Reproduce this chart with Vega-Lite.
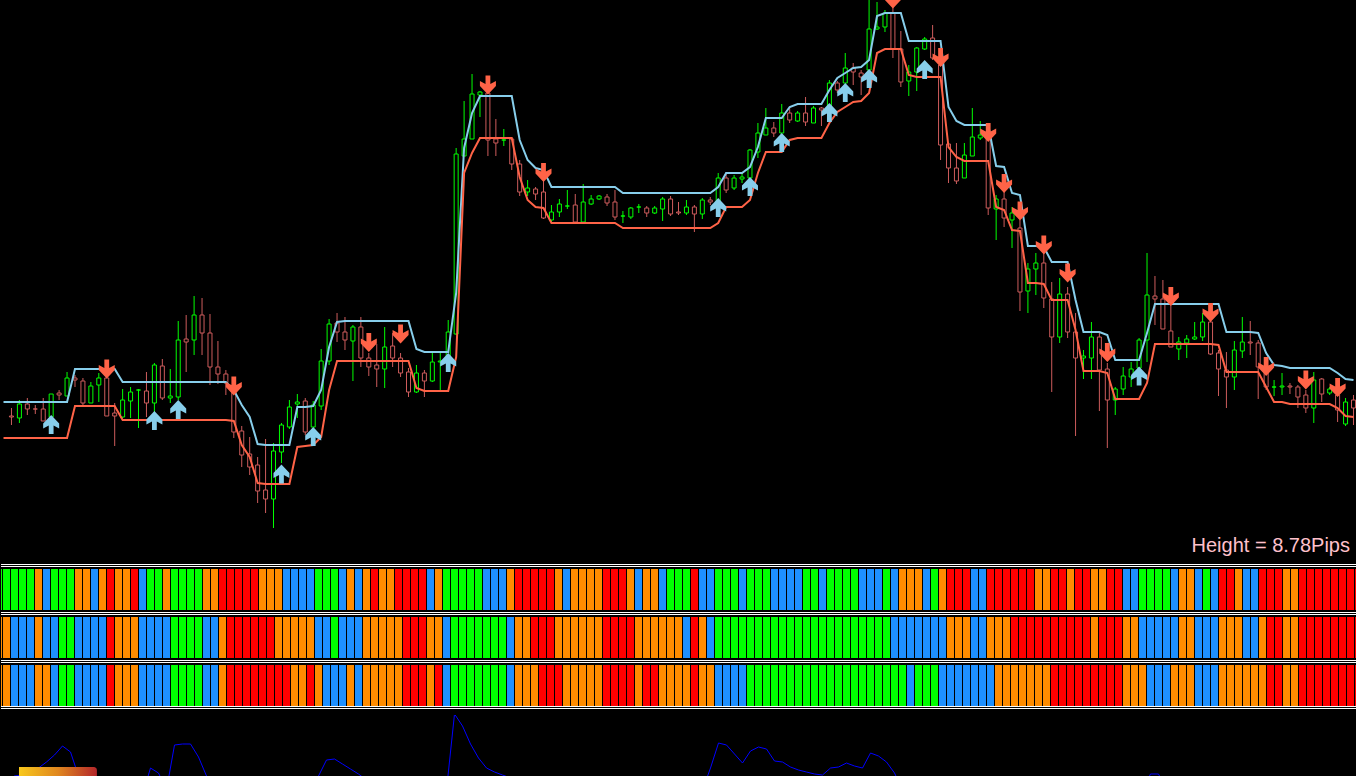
{
"$schema":"https://vega.github.io/schema/vega-lite/v6.json",
"background":"black",
"padding":0,
"spacing":0,
"config":{"view":{"stroke":null},"concat":{"spacing":0}},
"resolve":{"scale":{"color":"independent","stroke":"independent","shape":"independent","x":"independent","y":"independent"}},
"datasets":{
"bars":[
{"k":-1,"up":158,"lo":122,"s1":"G","s2":"O","s3":"O","v":-5},
{"k":0,"o":144,"h":152,"l":135,"c":143,"d":"d","up":158,"lo":122,"s1":"G","s2":"O","s3":"O","v":18},
{"k":1,"o":142,"h":160,"l":137,"c":156,"d":"u","up":158,"lo":122,"s1":"G","s2":"B","s3":"B","v":24},
{"k":2,"o":156,"h":162,"l":145,"c":151,"d":"d","up":158,"lo":122,"s1":"G","s2":"B","s3":"B","v":25},
{"k":3,"o":151,"h":155,"l":146,"c":151,"d":"d","up":158,"lo":122,"s1":"G","s2":"B","s3":"B","v":26},
{"k":4,"o":151,"h":162,"l":139,"c":139,"d":"d","up":158,"lo":122,"s1":"O","s2":"O","s3":"O","v":32},
{"k":5,"o":143,"h":166,"l":143,"c":166,"d":"u","up":158,"lo":122,"s1":"B","s2":"B","s3":"O","v":38},
{"k":6,"o":167,"h":170,"l":160,"c":165,"d":"d","up":158,"lo":122,"s1":"G","s2":"B","s3":"B","v":45},
{"k":7,"o":164,"h":188,"l":164,"c":182,"d":"u","up":158,"lo":122,"s1":"G","s2":"G","s3":"G","v":54},
{"k":8,"o":182,"h":185,"l":173,"c":180,"d":"d","up":191,"lo":154,"s1":"G","s2":"G","s3":"G","v":48},
{"k":9,"o":179,"h":182,"l":153,"c":157,"d":"d","up":191,"lo":154,"s1":"O","s2":"B","s3":"B","v":24},
{"k":10,"o":157,"h":178,"l":157,"c":174,"d":"u","up":191,"lo":154,"s1":"O","s2":"B","s3":"B","v":5},
{"k":11,"o":175,"h":187,"l":158,"c":182,"d":"u","up":191,"lo":154,"s1":"B","s2":"B","s3":"B","v":-5},
{"k":12,"o":182,"h":184,"l":144,"c":144,"d":"d","up":191,"lo":154,"s1":"O","s2":"B","s3":"B","v":-5},
{"k":13,"o":147,"h":157,"l":114,"c":144,"d":"d","up":191,"lo":154,"s1":"R","s2":"R","s3":"R","v":-5},
{"k":14,"o":143,"h":171,"l":142,"c":160,"d":"u","up":178,"lo":140,"s1":"O","s2":"O","s3":"O","v":-5},
{"k":15,"o":159,"h":173,"l":142,"c":168,"d":"u","up":178,"lo":140,"s1":"O","s2":"O","s3":"O","v":-5},
{"k":16,"o":170,"h":171,"l":132,"c":170,"d":"u","up":178,"lo":140,"s1":"R","s2":"O","s3":"O","v":-5},
{"k":17,"o":169,"h":188,"l":143,"c":157,"d":"d","up":178,"lo":140,"s1":"B","s2":"B","s3":"B","v":5},
{"k":18,"o":157,"h":197,"l":148,"c":195,"d":"u","up":178,"lo":140,"s1":"G","s2":"B","s3":"B","v":32},
{"k":19,"o":194,"h":201,"l":160,"c":162,"d":"d","up":178,"lo":140,"s1":"G","s2":"B","s3":"B","v":27},
{"k":20,"o":162,"h":191,"l":157,"c":164,"d":"u","up":178,"lo":140,"s1":"O","s2":"B","s3":"B","v":10},
{"k":21,"o":163,"h":239,"l":160,"c":220,"d":"u","up":178,"lo":140,"s1":"G","s2":"G","s3":"G","v":55},
{"k":22,"o":221,"h":245,"l":188,"c":218,"d":"d","up":178,"lo":140,"s1":"G","s2":"G","s3":"G","v":56},
{"k":23,"o":220,"h":264,"l":205,"c":245,"d":"u","up":178,"lo":140,"s1":"G","s2":"G","s3":"G","v":56},
{"k":24,"o":245,"h":262,"l":205,"c":227,"d":"d","up":178,"lo":140,"s1":"G","s2":"G","s3":"G","v":43},
{"k":25,"o":227,"h":246,"l":175,"c":193,"d":"d","up":178,"lo":140,"s1":"O","s2":"B","s3":"B","v":24},
{"k":26,"o":193,"h":219,"l":176,"c":186,"d":"d","up":178,"lo":140,"s1":"O","s2":"B","s3":"B","v":5},
{"k":27,"o":186,"h":190,"l":165,"c":177,"d":"d","up":178,"lo":140,"s1":"R","s2":"O","s3":"O","v":-5},
{"k":28,"o":170,"h":175,"l":122,"c":128,"d":"d","up":170,"lo":139,"s1":"R","s2":"R","s3":"R","v":-5},
{"k":29,"o":129,"h":134,"l":93,"c":105,"d":"d","up":155,"lo":115,"s1":"R","s2":"R","s3":"R","v":-5},
{"k":30,"o":106,"h":123,"l":85,"c":93,"d":"d","up":143,"lo":103,"s1":"R","s2":"R","s3":"R","v":-5},
{"k":31,"o":95,"h":103,"l":57,"c":69,"d":"d","up":116,"lo":77,"s1":"R","s2":"R","s3":"R","v":-5},
{"k":32,"o":70,"h":121,"l":47,"c":61,"d":"d","up":115,"lo":76,"s1":"O","s2":"R","s3":"R","v":-5},
{"k":33,"o":61,"h":117,"l":32,"c":109,"d":"u","up":115,"lo":76,"s1":"O","s2":"R","s3":"R","v":-5},
{"k":34,"o":108,"h":137,"l":97,"c":135,"d":"u","up":115,"lo":76,"s1":"O","s2":"O","s3":"R","v":-5},
{"k":35,"o":133,"h":160,"l":131,"c":153,"d":"u","up":115,"lo":76,"s1":"B","s2":"O","s3":"R","v":-5},
{"k":36,"o":156,"h":166,"l":142,"c":158,"d":"u","up":153,"lo":113,"s1":"B","s2":"O","s3":"O","v":-5},
{"k":37,"o":159,"h":162,"l":125,"c":128,"d":"d","up":153,"lo":114,"s1":"B","s2":"O","s3":"O","v":-5},
{"k":38,"o":133,"h":159,"l":133,"c":155,"d":"u","up":154,"lo":115,"s1":"B","s2":"O","s3":"R","v":10},
{"k":39,"o":154,"h":211,"l":150,"c":199,"d":"u","up":170,"lo":123,"s1":"G","s2":"B","s3":"O","v":24},
{"k":40,"o":199,"h":241,"l":195,"c":236,"d":"u","up":213,"lo":170,"s1":"G","s2":"B","s3":"B","v":40},
{"k":41,"o":237,"h":247,"l":218,"c":228,"d":"d","up":238,"lo":199,"s1":"G","s2":"G","s3":"B","v":41},
{"k":42,"o":228,"h":243,"l":210,"c":220,"d":"d","up":239,"lo":199,"s1":"B","s2":"B","s3":"B","v":36},
{"k":43,"o":219,"h":235,"l":179,"c":233,"d":"u","up":239,"lo":199,"s1":"O","s2":"B","s3":"O","v":31},
{"k":44,"o":233,"h":243,"l":193,"c":202,"d":"d","up":239,"lo":199,"s1":"B","s2":"B","s3":"B","v":26},
{"k":45,"o":202,"h":207,"l":184,"c":193,"d":"d","up":239,"lo":199,"s1":"O","s2":"O","s3":"O","v":20},
{"k":46,"o":195,"h":216,"l":173,"c":191,"d":"d","up":239,"lo":199,"s1":"R","s2":"O","s3":"O","v":5},
{"k":47,"o":191,"h":233,"l":172,"c":213,"d":"u","up":239,"lo":199,"s1":"O","s2":"O","s3":"O","v":-5},
{"k":48,"o":214,"h":227,"l":193,"c":202,"d":"d","up":239,"lo":199,"s1":"O","s2":"O","s3":"O","v":-5},
{"k":49,"o":202,"h":207,"l":183,"c":187,"d":"d","up":239,"lo":199,"s1":"R","s2":"O","s3":"O","v":-5},
{"k":50,"o":188,"h":192,"l":163,"c":168,"d":"d","up":239,"lo":199,"s1":"R","s2":"R","s3":"R","v":-5},
{"k":51,"o":168,"h":195,"l":167,"c":187,"d":"u","up":211,"lo":172,"s1":"R","s2":"R","s3":"R","v":-5},
{"k":52,"o":187,"h":190,"l":163,"c":179,"d":"d","up":208,"lo":169,"s1":"R","s2":"R","s3":"R","v":-5},
{"k":53,"o":179,"h":207,"l":178,"c":198,"d":"u","up":208,"lo":169,"s1":"B","s2":"O","s3":"O","v":-5},
{"k":54,"o":198,"h":207,"l":170,"c":199,"d":"u","up":208,"lo":169,"s1":"O","s2":"O","s3":"R","v":-5},
{"k":55,"o":198,"h":240,"l":198,"c":228,"d":"u","up":208,"lo":169,"s1":"G","s2":"B","s3":"B","v":10},
{"k":56,"o":226,"h":412,"l":225,"c":406,"d":"u","up":267,"lo":203,"s1":"G","s2":"G","s3":"G","v":86},
{"k":57,"o":404,"h":459,"l":404,"c":421,"d":"u","up":412,"lo":387,"s1":"G","s2":"G","s3":"G","v":74},
{"k":58,"o":421,"h":486,"l":421,"c":466,"d":"u","up":447,"lo":407,"s1":"G","s2":"G","s3":"G","v":56},
{"k":59,"o":465,"h":469,"l":443,"c":468,"d":"u","up":464,"lo":422,"s1":"G","s2":"G","s3":"G","v":42},
{"k":60,"o":467,"h":477,"l":404,"c":420,"d":"d","up":464,"lo":422,"s1":"B","s2":"G","s3":"G","v":32},
{"k":61,"o":421,"h":441,"l":404,"c":417,"d":"d","up":464,"lo":422,"s1":"B","s2":"G","s3":"G","v":28},
{"k":62,"o":420,"h":431,"l":414,"c":420,"d":"u","up":464,"lo":422,"s1":"B","s2":"G","s3":"G","v":25},
{"k":63,"o":421,"h":421,"l":390,"c":396,"d":"d","up":464,"lo":422,"s1":"O","s2":"B","s3":"B","v":22},
{"k":64,"o":396,"h":400,"l":364,"c":368,"d":"d","up":420,"lo":383,"s1":"R","s2":"O","s3":"O","v":10},
{"k":65,"o":368,"h":380,"l":364,"c":372,"d":"u","up":400,"lo":360,"s1":"R","s2":"O","s3":"O","v":-5},
{"k":66,"o":371,"h":373,"l":360,"c":366,"d":"d","up":392,"lo":353,"s1":"R","s2":"R","s3":"O","v":-5},
{"k":67,"o":368,"h":380,"l":341,"c":342,"d":"d","up":390,"lo":352,"s1":"R","s2":"R","s3":"R","v":-5},
{"k":68,"o":340,"h":355,"l":337,"c":348,"d":"u","up":373,"lo":337,"s1":"R","s2":"R","s3":"R","v":-5},
{"k":69,"o":348,"h":361,"l":343,"c":356,"d":"u","up":373,"lo":337,"s1":"O","s2":"O","s3":"R","v":-5},
{"k":70,"o":354,"h":370,"l":351,"c":354,"d":"u","up":373,"lo":337,"s1":"B","s2":"O","s3":"O","v":-5},
{"k":71,"o":355,"h":366,"l":338,"c":338,"d":"d","up":373,"lo":337,"s1":"O","s2":"O","s3":"O","v":-5},
{"k":72,"o":338,"h":376,"l":338,"c":358,"d":"u","up":373,"lo":337,"s1":"O","s2":"O","s3":"O","v":-5},
{"k":73,"o":356,"h":365,"l":355,"c":361,"d":"u","up":373,"lo":337,"s1":"O","s2":"O","s3":"O","v":-5},
{"k":74,"o":361,"h":365,"l":360,"c":364,"d":"u","up":373,"lo":337,"s1":"O","s2":"O","s3":"O","v":-5},
{"k":75,"o":363,"h":366,"l":354,"c":357,"d":"d","up":373,"lo":337,"s1":"R","s2":"R","s3":"R","v":-5},
{"k":76,"o":358,"h":370,"l":340,"c":343,"d":"d","up":373,"lo":337,"s1":"R","s2":"R","s3":"R","v":-5},
{"k":77,"o":344,"h":349,"l":337,"c":344,"d":"u","up":367,"lo":332,"s1":"R","s2":"R","s3":"R","v":-5},
{"k":78,"o":343,"h":353,"l":341,"c":352,"d":"u","up":367,"lo":332,"s1":"O","s2":"R","s3":"R","v":-5},
{"k":79,"o":353,"h":356,"l":347,"c":353,"d":"u","up":367,"lo":332,"s1":"B","s2":"O","s3":"O","v":-5},
{"k":80,"o":352,"h":354,"l":343,"c":347,"d":"d","up":367,"lo":332,"s1":"O","s2":"O","s3":"R","v":-5},
{"k":81,"o":347,"h":354,"l":346,"c":352,"d":"u","up":367,"lo":332,"s1":"O","s2":"O","s3":"R","v":-5},
{"k":82,"o":351,"h":363,"l":339,"c":361,"d":"u","up":367,"lo":332,"s1":"B","s2":"O","s3":"O","v":-5},
{"k":83,"o":361,"h":364,"l":344,"c":346,"d":"d","up":367,"lo":332,"s1":"G","s2":"O","s3":"O","v":-5},
{"k":84,"o":348,"h":358,"l":345,"c":347,"d":"d","up":367,"lo":332,"s1":"G","s2":"O","s3":"O","v":-5},
{"k":85,"o":347,"h":360,"l":345,"c":353,"d":"u","up":367,"lo":332,"s1":"G","s2":"B","s3":"O","v":-5},
{"k":86,"o":353,"h":355,"l":328,"c":346,"d":"d","up":367,"lo":332,"s1":"R","s2":"R","s3":"R","v":-5},
{"k":87,"o":346,"h":362,"l":341,"c":360,"d":"u","up":367,"lo":332,"s1":"B","s2":"O","s3":"O","v":10},
{"k":88,"o":360,"h":363,"l":355,"c":358,"d":"d","up":367,"lo":332,"s1":"B","s2":"B","s3":"O","v":32},
{"k":89,"o":357,"h":387,"l":357,"c":382,"d":"u","up":373,"lo":337,"s1":"G","s2":"G","s3":"B","v":57},
{"k":90,"o":382,"h":388,"l":367,"c":370,"d":"d","up":387,"lo":353,"s1":"G","s2":"G","s3":"B","v":55},
{"k":91,"o":372,"h":385,"l":370,"c":382,"d":"u","up":387,"lo":353,"s1":"G","s2":"G","s3":"B","v":46},
{"k":92,"o":381,"h":387,"l":377,"c":383,"d":"u","up":387,"lo":353,"s1":"B","s2":"G","s3":"B","v":37},
{"k":93,"o":382,"h":411,"l":382,"c":410,"d":"u","up":393,"lo":360,"s1":"G","s2":"G","s3":"G","v":49},
{"k":94,"o":408,"h":437,"l":402,"c":427,"d":"u","up":413,"lo":387,"s1":"G","s2":"G","s3":"G","v":53},
{"k":95,"o":425,"h":452,"l":425,"c":432,"d":"u","up":442,"lo":408,"s1":"G","s2":"G","s3":"G","v":51},
{"k":96,"o":432,"h":438,"l":423,"c":427,"d":"d","up":442,"lo":408,"s1":"B","s2":"G","s3":"G","v":39},
{"k":97,"o":427,"h":456,"l":427,"c":447,"d":"u","up":442,"lo":408,"s1":"B","s2":"G","s3":"G","v":38},
{"k":98,"o":447,"h":453,"l":437,"c":440,"d":"d","up":453,"lo":420,"s1":"B","s2":"G","s3":"G","v":33},
{"k":99,"o":439,"h":449,"l":438,"c":447,"d":"u","up":456,"lo":422,"s1":"B","s2":"G","s3":"G","v":30},
{"k":100,"o":447,"h":463,"l":434,"c":438,"d":"d","up":456,"lo":422,"s1":"G","s2":"G","s3":"G","v":28},
{"k":101,"o":437,"h":454,"l":437,"c":452,"d":"u","up":456,"lo":422,"s1":"G","s2":"G","s3":"G","v":26},
{"k":102,"o":452,"h":453,"l":434,"c":450,"d":"d","up":456,"lo":422,"s1":"B","s2":"G","s3":"G","v":25},
{"k":103,"o":450,"h":480,"l":450,"c":477,"d":"u","up":470,"lo":437,"s1":"G","s2":"G","s3":"G","v":32},
{"k":104,"o":477,"h":479,"l":467,"c":470,"d":"d","up":482,"lo":448,"s1":"G","s2":"G","s3":"G","v":33},
{"k":105,"o":477,"h":507,"l":477,"c":492,"d":"u","up":487,"lo":453,"s1":"G","s2":"G","s3":"G","v":37},
{"k":106,"o":492,"h":497,"l":475,"c":488,"d":"d","up":492,"lo":458,"s1":"G","s2":"G","s3":"G","v":34},
{"k":107,"o":487,"h":490,"l":465,"c":483,"d":"d","up":493,"lo":459,"s1":"B","s2":"G","s3":"G","v":32},
{"k":108,"o":490,"h":560,"l":490,"c":531,"d":"u","up":500,"lo":467,"s1":"B","s2":"G","s3":"G","v":47},
{"k":109,"o":531,"h":558,"l":530,"c":533,"d":"u","up":544,"lo":507,"s1":"B","s2":"G","s3":"G","v":44},
{"k":110,"o":533,"h":550,"l":528,"c":547,"d":"u","up":547,"lo":511,"s1":"G","s2":"G","s3":"G","v":38},
{"k":111,"o":547,"h":555,"l":502,"c":511,"d":"d","up":547,"lo":511,"s1":"B","s2":"B","s3":"G","v":27},
{"k":112,"o":511,"h":529,"l":473,"c":478,"d":"d","up":547,"lo":511,"s1":"O","s2":"B","s3":"G","v":10},
{"k":113,"o":479,"h":495,"l":464,"c":488,"d":"u","up":519,"lo":485,"s1":"O","s2":"B","s3":"B","v":-5},
{"k":114,"o":488,"h":513,"l":469,"c":512,"d":"u","up":519,"lo":483,"s1":"O","s2":"B","s3":"G","v":-5},
{"k":115,"o":511,"h":523,"l":510,"c":521,"d":"u","up":519,"lo":483,"s1":"B","s2":"B","s3":"G","v":-5},
{"k":116,"o":522,"h":535,"l":500,"c":502,"d":"d","up":519,"lo":483,"s1":"G","s2":"B","s3":"G","v":-5},
{"k":117,"o":495,"h":510,"l":400,"c":415,"d":"d","up":519,"lo":483,"s1":"O","s2":"B","s3":"B","v":-5},
{"k":118,"o":416,"h":417,"l":377,"c":392,"d":"d","up":453,"lo":413,"s1":"R","s2":"O","s3":"B","v":-5},
{"k":119,"o":392,"h":417,"l":376,"c":379,"d":"d","up":439,"lo":403,"s1":"R","s2":"O","s3":"B","v":-5},
{"k":120,"o":382,"h":417,"l":382,"c":405,"d":"u","up":435,"lo":399,"s1":"R","s2":"O","s3":"B","v":-5},
{"k":121,"o":404,"h":452,"l":404,"c":423,"d":"u","up":435,"lo":399,"s1":"B","s2":"B","s3":"B","v":-5},
{"k":122,"o":422,"h":439,"l":420,"c":425,"d":"u","up":435,"lo":399,"s1":"B","s2":"B","s3":"B","v":-5},
{"k":123,"o":423,"h":428,"l":345,"c":352,"d":"d","up":435,"lo":399,"s1":"R","s2":"O","s3":"B","v":-5},
{"k":124,"o":351,"h":365,"l":320,"c":361,"d":"u","up":394,"lo":353,"s1":"R","s2":"O","s3":"O","v":-5},
{"k":125,"o":361,"h":370,"l":333,"c":342,"d":"d","up":393,"lo":350,"s1":"R","s2":"O","s3":"O","v":-5},
{"k":126,"o":340,"h":353,"l":312,"c":347,"d":"u","up":367,"lo":330,"s1":"R","s2":"R","s3":"O","v":-5},
{"k":127,"o":332,"h":340,"l":249,"c":268,"d":"d","up":365,"lo":329,"s1":"R","s2":"R","s3":"O","v":-5},
{"k":128,"o":269,"h":297,"l":247,"c":291,"d":"u","up":314,"lo":277,"s1":"R","s2":"R","s3":"O","v":-5},
{"k":129,"o":291,"h":307,"l":265,"c":297,"d":"u","up":314,"lo":277,"s1":"O","s2":"R","s3":"O","v":-5},
{"k":130,"o":297,"h":307,"l":252,"c":262,"d":"d","up":313,"lo":276,"s1":"O","s2":"R","s3":"O","v":-5},
{"k":131,"o":261,"h":278,"l":168,"c":223,"d":"d","up":298,"lo":260,"s1":"R","s2":"R","s3":"R","v":-5},
{"k":132,"o":223,"h":282,"l":217,"c":266,"d":"u","up":298,"lo":260,"s1":"R","s2":"R","s3":"R","v":-5},
{"k":133,"o":266,"h":273,"l":222,"c":228,"d":"d","up":298,"lo":260,"s1":"O","s2":"R","s3":"R","v":-5},
{"k":134,"o":228,"h":247,"l":124,"c":202,"d":"d","up":260,"lo":230,"s1":"R","s2":"R","s3":"R","v":-5},
{"k":135,"o":202,"h":210,"l":181,"c":204,"d":"u","up":228,"lo":189,"s1":"R","s2":"R","s3":"R","v":-5},
{"k":136,"o":202,"h":238,"l":181,"c":223,"d":"u","up":228,"lo":189,"s1":"O","s2":"O","s3":"R","v":-5},
{"k":137,"o":223,"h":227,"l":149,"c":190,"d":"d","up":228,"lo":189,"s1":"O","s2":"R","s3":"R","v":-5},
{"k":138,"o":191,"h":197,"l":112,"c":160,"d":"d","up":225,"lo":187,"s1":"R","s2":"R","s3":"R","v":-5},
{"k":139,"o":160,"h":173,"l":145,"c":171,"d":"u","up":200,"lo":161,"s1":"R","s2":"R","s3":"R","v":-5},
{"k":140,"o":171,"h":193,"l":165,"c":184,"d":"u","up":200,"lo":161,"s1":"B","s2":"O","s3":"O","v":-5},
{"k":141,"o":183,"h":198,"l":173,"c":191,"d":"u","up":200,"lo":161,"s1":"B","s2":"O","s3":"O","v":-5},
{"k":142,"o":192,"h":222,"l":180,"c":220,"d":"u","up":200,"lo":161,"s1":"G","s2":"B","s3":"O","v":10},
{"k":143,"o":220,"h":307,"l":198,"c":265,"d":"u","up":227,"lo":177,"s1":"G","s2":"B","s3":"B","v":26},
{"k":144,"o":264,"h":284,"l":235,"c":261,"d":"d","up":256,"lo":216,"s1":"G","s2":"B","s3":"B","v":26},
{"k":145,"o":261,"h":280,"l":231,"c":231,"d":"d","up":256,"lo":216,"s1":"G","s2":"B","s3":"B","v":10},
{"k":146,"o":229,"h":255,"l":213,"c":213,"d":"d","up":256,"lo":216,"s1":"B","s2":"B","s3":"O","v":-5},
{"k":147,"o":211,"h":223,"l":200,"c":218,"d":"u","up":256,"lo":216,"s1":"O","s2":"O","s3":"O","v":-5},
{"k":148,"o":217,"h":225,"l":202,"c":221,"d":"u","up":256,"lo":216,"s1":"O","s2":"O","s3":"O","v":-5},
{"k":149,"o":221,"h":238,"l":220,"c":223,"d":"u","up":256,"lo":216,"s1":"B","s2":"B","s3":"B","v":-5},
{"k":150,"o":223,"h":247,"l":219,"c":238,"d":"u","up":256,"lo":216,"s1":"G","s2":"B","s3":"B","v":-5},
{"k":151,"o":238,"h":245,"l":205,"c":206,"d":"d","up":256,"lo":216,"s1":"B","s2":"B","s3":"B","v":-5},
{"k":152,"o":207,"h":210,"l":164,"c":191,"d":"d","up":256,"lo":215,"s1":"R","s2":"O","s3":"O","v":-5},
{"k":153,"o":190,"h":208,"l":152,"c":183,"d":"d","up":228,"lo":188,"s1":"R","s2":"O","s3":"O","v":-5},
{"k":154,"o":183,"h":219,"l":170,"c":210,"d":"u","up":228,"lo":188,"s1":"O","s2":"O","s3":"O","v":-5},
{"k":155,"o":209,"h":243,"l":202,"c":218,"d":"u","up":228,"lo":188,"s1":"B","s2":"B","s3":"O","v":-5},
{"k":156,"o":218,"h":239,"l":205,"c":217,"d":"d","up":228,"lo":188,"s1":"B","s2":"B","s3":"O","v":-5},
{"k":157,"o":217,"h":220,"l":161,"c":193,"d":"d","up":227,"lo":188,"s1":"R","s2":"O","s3":"O","v":-5},
{"k":158,"o":193,"h":200,"l":170,"c":173,"d":"d","up":207,"lo":173,"s1":"R","s2":"R","s3":"R","v":-5},
{"k":159,"o":173,"h":180,"l":164,"c":173,"d":"u","up":195,"lo":158,"s1":"R","s2":"R","s3":"R","v":-5},
{"k":160,"o":173,"h":187,"l":165,"c":174,"d":"u","up":194,"lo":158,"s1":"O","s2":"O","s3":"O","v":-5},
{"k":161,"o":174,"h":177,"l":166,"c":173,"d":"d","up":192,"lo":156,"s1":"O","s2":"O","s3":"O","v":-5},
{"k":162,"o":173,"h":175,"l":152,"c":163,"d":"d","up":192,"lo":156,"s1":"R","s2":"R","s3":"R","v":-5},
{"k":163,"o":165,"h":170,"l":147,"c":152,"d":"d","up":192,"lo":156,"s1":"R","s2":"R","s3":"R","v":-5},
{"k":164,"o":152,"h":188,"l":137,"c":180,"d":"u","up":192,"lo":156,"s1":"R","s2":"R","s3":"R","v":-5},
{"k":165,"o":181,"h":182,"l":158,"c":166,"d":"d","up":192,"lo":156,"s1":"R","s2":"R","s3":"R","v":-5},
{"k":166,"o":167,"h":173,"l":165,"c":171,"d":"u","up":192,"lo":156,"s1":"R","s2":"R","s3":"R","v":-5},
{"k":167,"o":165,"h":170,"l":138,"c":150,"d":"d","up":187,"lo":152,"s1":"R","s2":"R","s3":"R","v":-5},
{"k":168,"o":136,"h":162,"l":134,"c":158,"d":"u","up":181,"lo":144,"s1":"R","s2":"R","s3":"R","v":-5},
{"k":169,"o":160,"h":165,"l":135,"c":152,"d":"d","up":180,"lo":143,"s1":"R","s2":"R","s3":"R","v":-5}
],
"arrows":[
{"k":12,"p":191,"t":"dn"},{"k":28,"p":174,"t":"dn"},{"k":45,"p":217.5,"t":"dn"},{"k":49,"p":226,"t":"dn"},
{"k":60,"p":475,"t":"dn"},{"k":67,"p":387.5,"t":"dn"},{"k":111,"p":561,"t":"dn"},{"k":117,"p":502.5,"t":"dn"},
{"k":123,"p":427.5,"t":"dn"},{"k":125,"p":376.5,"t":"dn"},{"k":127,"p":349,"t":"dn"},{"k":130,"p":315,"t":"dn"},
{"k":133,"p":287,"t":"dn"},{"k":138,"p":207.5,"t":"dn"},{"k":146,"p":263.5,"t":"dn"},{"k":151,"p":247.5,"t":"dn"},
{"k":158,"p":193.5,"t":"dn"},{"k":163,"p":180,"t":"dn"},{"k":167,"p":172.5,"t":"dn"},
{"k":5,"p":135.5,"t":"up"},{"k":18,"p":139.5,"t":"up"},{"k":21,"p":150.5,"t":"up"},{"k":34,"p":86,"t":"up"},
{"k":38,"p":123.5,"t":"up"},{"k":55,"p":197.5,"t":"up"},{"k":89,"p":352.5,"t":"up"},{"k":93,"p":373.5,"t":"up"},
{"k":97,"p":417.5,"t":"up"},{"k":103,"p":447.5,"t":"up"},{"k":105,"p":467.5,"t":"up"},{"k":108,"p":481.5,"t":"up"},
{"k":115,"p":490.5,"t":"up"},{"k":142,"p":184,"t":"up"}
],
"strips":[{"strip":"s1"},{"strip":"s2"},{"strip":"s3"}]
},
"vconcat":[
{
"width":1356,"height":560,
"data":{"name":"bars"},
"resolve":{"scale":{"color":"independent","stroke":"independent","shape":"independent"}},
"layer":[
{"mark":{"type":"rule","strokeWidth":1,"clip":true},
 "encoding":{
  "x":{"field":"k","type":"quantitative","scale":{"domain":[-0.6875,168.8125],"nice":false,"zero":false},"axis":null},
  "y":{"field":"l","type":"quantitative","scale":{"domain":[0,560],"nice":false,"zero":false},"axis":null},
  "y2":{"field":"h"},
  "color":{"field":"d","type":"nominal","scale":{"domain":["u","d"],"range":["#00ff00","#cd5c5c"]},"legend":null}}},
{"mark":{"type":"bar","size":4,"fill":"black","strokeWidth":1,"clip":true},
 "encoding":{
  "x":{"field":"k","type":"quantitative","scale":{"domain":[-0.6875,168.8125],"nice":false,"zero":false},"axis":null},
  "y":{"field":"o","type":"quantitative","scale":{"domain":[0,560],"nice":false,"zero":false},"axis":null},
  "y2":{"field":"c"},
  "stroke":{"field":"d","type":"nominal","scale":{"domain":["u","d"],"range":["#00ff00","#cd5c5c"]},"legend":null}}},
{"mark":{"type":"line","color":"#87ceeb","strokeWidth":2,"clip":true},
 "encoding":{
  "x":{"field":"k","type":"quantitative","scale":{"domain":[-0.6875,168.8125],"nice":false,"zero":false},"axis":null},
  "y":{"field":"up","type":"quantitative","scale":{"domain":[0,560],"nice":false,"zero":false},"axis":null}}},
{"mark":{"type":"line","color":"#ff6347","strokeWidth":2,"clip":true},
 "encoding":{
  "x":{"field":"k","type":"quantitative","scale":{"domain":[-0.6875,168.8125],"nice":false,"zero":false},"axis":null},
  "y":{"field":"lo","type":"quantitative","scale":{"domain":[0,560],"nice":false,"zero":false},"axis":null}}},
{"data":{"name":"arrows"},
 "mark":{"type":"point","filled":true,"size":400,"opacity":1,"strokeWidth":0,"clip":true},
 "encoding":{
  "x":{"field":"k","type":"quantitative","scale":{"domain":[-0.6875,168.8125],"nice":false,"zero":false},"axis":null},
  "y":{"field":"p","type":"quantitative","scale":{"domain":[0,560],"nice":false,"zero":false},"axis":null},
  "shape":{"field":"t","type":"nominal","scale":{"domain":["up","dn"],"range":["M-0.24,0.95L0.24,0.95L0.24,0.1L0.8,0.4L0.8,-0.1L0,-0.95L-0.8,-0.1L-0.8,0.4L-0.24,0.1Z","M-0.24,-0.95L0.24,-0.95L0.24,-0.1L0.8,-0.4L0.8,0.1L0,0.95L-0.8,0.1L-0.8,-0.4L-0.24,-0.1Z"]},"legend":null},
  "color":{"field":"t","type":"nominal","scale":{"domain":["up","dn"],"range":["#87ceeb","#ff6347"]},"legend":null}}},
{"data":{"values":[{}]},
 "mark":{"type":"text","align":"right","baseline":"alphabetic","font":"Liberation Sans","fontSize":20,"color":"#ffc0cb"},
 "encoding":{
  "x":{"datum":168.56,"type":"quantitative"},
  "y":{"datum":8,"type":"quantitative"},
  "text":{"value":"Height = 8.78Pips"}}}
]
},
{
"width":1356,"height":155,
"layer":[
{"data":{"name":"bars"},
 "transform":[{"fold":["s1","s2","s3"],"as":["strip","col"]}],
 "mark":{"type":"tick","thickness":7,"size":41,"opacity":1,"clip":true},
 "encoding":{
  "x":{"field":"k","type":"quantitative","scale":{"domain":[-0.6875,168.8125],"nice":false,"zero":false},"axis":null},
  "y":{"field":"strip","type":"ordinal","bandPosition":0.5,"scale":{"type":"band","domain":["s1","s2","s3"],"paddingInner":0.14583,"paddingOuter":0.1875},"axis":null},
  "color":{"field":"col","type":"nominal","scale":{"domain":["G","B","O","R"],"range":["#00ff00","#1e90ff","#ff8c00","#ff0000"]},"legend":null}}},
{"data":{"name":"strips"},
 "mark":{"type":"rule","color":"white","strokeWidth":1,"yOffset":-25},
 "encoding":{"y":{"field":"strip","type":"ordinal","bandPosition":0.5,"scale":{"type":"band","domain":["s1","s2","s3"],"paddingInner":0.14583,"paddingOuter":0.1875},"axis":null}}},
{"data":{"name":"strips"},
 "mark":{"type":"rule","color":"white","strokeWidth":1,"yOffset":-23},
 "encoding":{"y":{"field":"strip","type":"ordinal","bandPosition":0.5,"scale":{"type":"band","domain":["s1","s2","s3"],"paddingInner":0.14583,"paddingOuter":0.1875},"axis":null}}},
{"data":{"name":"strips"},
 "transform":[{"filter":"datum.strip === 's3'"}],
 "mark":{"type":"rule","color":"white","strokeWidth":1,"yOffset":21},
 "encoding":{"y":{"field":"strip","type":"ordinal","bandPosition":0.5,"scale":{"type":"band","domain":["s1","s2","s3"],"paddingInner":0.14583,"paddingOuter":0.1875},"axis":null}}},
{"data":{"name":"strips"},
 "transform":[{"filter":"datum.strip === 's3'"}],
 "mark":{"type":"rule","color":"white","strokeWidth":1,"yOffset":23},
 "encoding":{"y":{"field":"strip","type":"ordinal","bandPosition":0.5,"scale":{"type":"band","domain":["s1","s2","s3"],"paddingInner":0.14583,"paddingOuter":0.1875},"axis":null}}}
]
},
{
"width":1356,"height":61,
"layer":[
{"data":{"name":"bars"},
 "mark":{"type":"line","color":"#0000ff","strokeWidth":1,"clip":true},
 "encoding":{
  "x":{"field":"k","type":"quantitative","scale":{"domain":[-0.6875,168.8125],"nice":false,"zero":false},"axis":null},
  "y":{"field":"v","type":"quantitative","scale":{"domain":[24,85],"nice":false,"zero":false},"axis":null}}},
{"data":{"values":[{}]},
 "mark":{"type":"rect","clip":true,"cornerRadiusTopRight":3,"color":{"gradient":"linear","x1":0,"y1":0,"x2":1,"y2":0,"stops":[{"offset":0,"color":"#f8c81c"},{"offset":0.5,"color":"#e0871f"},{"offset":1,"color":"#b3262a"}]}},
 "encoding":{
  "x":{"datum":1.56,"type":"quantitative"},
  "x2":{"datum":11.3},
  "y":{"datum":33,"type":"quantitative"},
  "y2":{"datum":10}}}
]
}
]
}
